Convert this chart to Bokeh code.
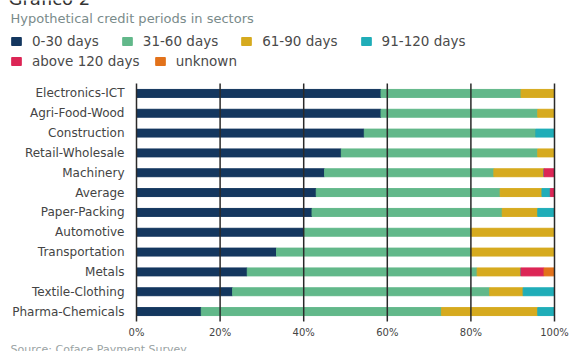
from bokeh.plotting import figure
from bokeh.models import (ColumnDataSource, FactorRange, Range1d, FixedTicker,
                          PrintfTickFormatter, Legend, LegendItem, Label)
from bokeh.embed import file_html
from bokeh.resources import INLINE

# ---------------- data ----------------
sectors = ["Electronics-ICT", "Agri-Food-Wood", "Construction", "Retail-Wholesale",
           "Machinery", "Average", "Paper-Packing", "Automotive", "Transportation",
           "Metals", "Textile-Clothing", "Pharma-Chemicals"]
d0_30    = [58.5, 58.5, 54.5, 49.0, 45.0, 43.0, 42.0, 40.0, 33.5, 26.5, 23.0, 15.5]
d31_60   = [33.5, 37.5, 41.0, 47.0, 40.5, 44.0, 45.5, 40.0, 46.5, 55.0, 61.5, 57.5]
d61_90   = [8.0, 4.0, 0.0, 4.0, 12.0, 10.0, 8.5, 20.0, 20.0, 10.5, 8.0, 23.0]
d91_120  = [0.0, 0.0, 4.5, 0.0, 0.0, 2.0, 4.0, 0.0, 0.0, 0.0, 7.5, 4.0]
above120 = [0.0, 0.0, 0.0, 0.0, 2.5, 1.0, 0.0, 0.0, 0.0, 5.5, 0.0, 0.0]
unknown  = [0.0, 0.0, 0.0, 0.0, 0.0, 0.0, 0.0, 0.0, 0.0, 2.5, 0.0, 0.0]

series_keys = ["d0_30", "d31_60", "d61_90", "d91_120", "above120", "unknown"]
series_labels = ["0-30 days", "31-60 days", "61-90 days", "91-120 days",
                 "above 120 days", "unknown"]
x_ticks = [0, 20, 40, 60, 80, 100]

title_text = "Grafico 2"
subtitle_text = "Hypothetical credit periods in sectors"
source_text = "Source: Coface Payment Survey"

# ---------------- layout / style ----------------
colors = ["#14375f", "#62b88a", "#d6aa1f", "#20adb8", "#dc2656", "#e2721b"]
FONT = "DejaVu Sans"
W = 571
X0_PX, X100_PX = 136, 554          # pixel of 0% and 100%
TOP_PX, BOT_PX = 83, 321           # pixel of top / bottom of the category band
NCAT = len(sectors)
PPX = (X100_PX - X0_PX) / 100.0    # px per percent
PPY = (BOT_PX - TOP_PX) / NCAT     # px per category
PAD = TOP_PX / PPY                 # symmetric padding (in category units)
H = int(round(NCAT * PPY + 2 * TOP_PX))


def sx(px):
    return (px - X0_PX) / PPX


def sy(py):
    return NCAT + (TOP_PX - py) / PPY


src = ColumnDataSource(dict(sector=sectors, d0_30=d0_30, d31_60=d31_60, d61_90=d61_90,
                            d91_120=d91_120, above120=above120, unknown=unknown))

p = figure(width=W, height=H, title=None,
           y_range=FactorRange(factors=sectors[::-1], range_padding=PAD,
                               range_padding_units="absolute"),
           x_range=Range1d(sx(0), sx(W)),
           output_backend="svg", toolbar_location=None, min_border=0)
p.outline_line_color = None
p.xgrid.visible = False
p.ygrid.visible = False

rs = p.hbar_stack(series_keys, y="sector", height=0.4, color=colors, source=src)

# vertical grid lines at the tick positions, over the bars, only across the band
p.segment(x0=x_ticks, x1=x_ticks, y0=[0] * len(x_ticks), y1=[NCAT] * len(x_ticks),
          line_color="#2a2a2a", line_width=1.5)

# axes fixed inside the (full-canvas) frame
p.xaxis.fixed_location = 0
p.xaxis.ticker = FixedTicker(ticks=x_ticks)
p.xaxis.formatter = PrintfTickFormatter(format="%d%%")
p.xaxis.axis_line_color = None
p.xaxis.major_tick_line_color = None
p.xaxis.minor_tick_line_color = None
p.xaxis.major_tick_out = 0
p.xaxis.major_tick_in = 0
p.xaxis.major_label_standoff = 5
p.xaxis.major_label_text_font = FONT
p.xaxis.major_label_text_font_size = "10px"
p.xaxis.major_label_text_color = "#444444"

p.yaxis.fixed_location = 0
p.yaxis.axis_line_color = None
p.yaxis.major_tick_line_color = None
p.yaxis.minor_tick_line_color = None
p.yaxis.major_tick_out = 0
p.yaxis.major_tick_in = 0
p.yaxis.major_label_standoff = 12
p.yaxis.major_label_text_font = FONT
p.yaxis.major_label_text_font_size = "12px"
p.yaxis.major_label_text_color = "#444444"

# legends: two rows
items = [LegendItem(label=lab, renderers=[r]) for lab, r in zip(series_labels, rs)]


def make_legend(its, bottom_px, spacing):
    return Legend(items=its, orientation="horizontal",
                  location=(10, H - bottom_px),
                  padding=0, margin=0, spacing=spacing,
                  glyph_width=12, glyph_height=10, label_standoff=10,
                  label_height=20,
                  label_text_font=FONT, label_text_font_size="13.5px",
                  label_text_color="#4a4a4a",
                  border_line_color=None, background_fill_alpha=0)


p.add_layout(make_legend(items[:4], 51, 22))
p.add_layout(make_legend(items[4:], 71, 14))

# texts
p.add_layout(Label(x=sx(8), y=sy(-2), text=title_text, text_font=FONT,
                   text_font_size="18px", text_color="#333333",
                   text_baseline="alphabetic"))
p.add_layout(Label(x=sx(10), y=sy(18), text=subtitle_text, text_font=FONT,
                   text_font_size="13px", text_color="#7a8b8b",
                   text_baseline="middle"))
p.add_layout(Label(x=sx(10), y=sy(342), text=source_text, text_font=FONT,
                   text_font_size="11px", text_color="#9aa3a3",
                   text_baseline="top"))

open("out.html", "w").write(file_html(p, INLINE))
